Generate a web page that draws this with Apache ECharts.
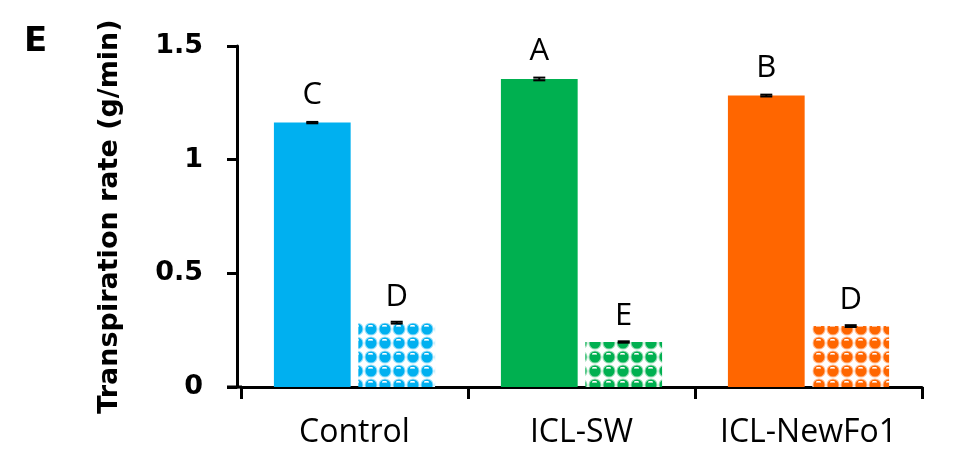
<!DOCTYPE html>
<html>
<head>
<meta charset="utf-8">
<script src="https://cdn.jsdelivr.net/npm/echarts@6/dist/echarts.min.js"></script>
<style>html,body{margin:0;padding:0;background:#fff}#c{width:963px;height:456px}</style>
</head>
<body>
<div id="c"></div>
<script>
const categories = ['Control', 'ICL-SW', 'ICL-NewFo1'];
const solidValues = [1.163, 1.355, 1.282];
const solidErrors = [0.003, 0.006, 0.004];
const solidLetters = ['C', 'A', 'B'];
const patternValues = [0.283, 0.198, 0.268];
const patternErrors = [0.004, 0.003, 0.004];
const patternLetters = ['D', 'E', 'D'];
const colors = ['#00B0F0', '#00B050', '#FF6600'];
const lightColors = ['#9EE0F9', '#9EDDB8', '#FFBE96'];
const yTicks = [0, 0.5, 1, 1.5];

function makePattern(color, light) {
  const s = 14;
  const c = document.createElement('canvas');
  c.width = s; c.height = s;
  const g = c.getContext('2d');
  g.fillStyle = '#ffffff';
  g.fillRect(0, 0, s, s);
  g.fillStyle = light;
  g.beginPath(); g.arc(s / 2, s / 2, 6.6, 0, Math.PI * 2); g.fill();
  g.fillStyle = color;
  g.beginPath(); g.arc(s / 2, s / 2, 5.5, 0, Math.PI * 2); g.fill();
  g.fillStyle = light;
  g.fillRect(4, 3, 5, 2);
  g.fillStyle = '#ffffff';
  g.fillRect(5, 3, 3, 1);
  return c;
}

const chart = echarts.init(document.getElementById('c'));

function errorSeries(values, errors, seriesIndexOffset) {
  return {
    type: 'custom',
    z: 10,
    data: values.map((v, i) => [i, v, errors[i]]),
    renderItem: function (params, api) {
      const i = api.value(0);
      const v = api.value(1);
      const e = api.value(2);
      const bandW = api.size([1, 0])[0];
      const groupW = bandW * 0.71;
      const barW = groupW / 2.1;
      const base = api.coord([i, v]);
      const cx = base[0] - groupW / 2 + barW / 2 + seriesIndexOffset * barW * 1.1;
      const top = api.coord([i, v + e])[1];
      const bot = api.coord([i, v - e])[1];
      const hw = 6;
      const style = { stroke: '#000', lineWidth: 2 };
      return {
        type: 'group',
        children: [
          { type: 'line', shape: { x1: cx, y1: top, x2: cx, y2: bot }, style },
          { type: 'line', shape: { x1: cx - hw, y1: top, x2: cx + hw, y2: top }, style },
          { type: 'line', shape: { x1: cx - hw, y1: bot, x2: cx + hw, y2: bot }, style }
        ]
      };
    }
  };
}

const regFont = '"Open Sans", sans-serif';
const boldFont = '"DejaVu Sans", sans-serif';

chart.setOption({
  animation: false,
  backgroundColor: '#fff',
  grid: { left: 241, right: 41, top: 46, bottom: 69 },
  graphic: [
    { type: 'text', left: 24, top: 25, style: { text: 'E', font: 'bold 34px "DejaVu Sans", sans-serif', fill: '#000' } },
    { type: 'line', shape: { x1: 227, y1: 387, x2: 242, y2: 387 }, style: { stroke: '#000', lineWidth: 3 } }
  ],
  xAxis: {
    type: 'category',
    data: categories,
    axisLine: { lineStyle: { color: '#000', width: 3 } },
    axisTick: { show: true, interval: 0, length: 12, lineStyle: { color: '#000', width: 3 } },
    axisLabel: { color: '#000', fontSize: 32, fontFamily: regFont, margin: 30, interval: 0 }
  },
  yAxis: {
    type: 'value',
    min: 0, max: 1.5, interval: 0.5,
    offset: 4,
    name: 'Transpiration rate (g/min)',
    nameLocation: 'middle',
    nameGap: 114,
    nameTextStyle: { color: '#000', fontSize: 27, fontWeight: 'bold', fontFamily: boldFont },
    splitLine: { show: false },
    axisLine: { show: true, lineStyle: { color: '#000', width: 3 } },
    axisTick: { show: true, length: 10, lineStyle: { color: '#000', width: 3 } },
    axisLabel: {
      color: '#000', fontSize: 27, fontWeight: 'bold', fontFamily: boldFont, margin: 34,
      formatter: function (v) { return yTicks.indexOf(v) >= 0 ? String(v) : ''; }
    }
  },
  series: [
    {
      type: 'bar',
      barCategoryGap: '29%',
      barGap: '10%',
      data: solidValues.map((v, i) => ({ value: v, itemStyle: { color: colors[i] } })),
      label: {
        show: true, position: 'top', distance: 12,
        color: '#000', fontSize: 31, fontFamily: regFont,
        formatter: p => solidLetters[p.dataIndex]
      }
    },
    {
      type: 'bar',
      data: patternValues.map((v, i) => ({
        value: v,
        itemStyle: { color: { image: makePattern(colors[i], lightColors[i]), repeat: 'repeat' } }
      })),
      label: {
        show: true, position: 'top', distance: 10,
        color: '#000', fontSize: 31, fontFamily: regFont,
        formatter: p => patternLetters[p.dataIndex]
      }
    },
    errorSeries(solidValues, solidErrors, 0),
    errorSeries(patternValues, patternErrors, 1)
  ]
});
</script>
</body>
</html>
